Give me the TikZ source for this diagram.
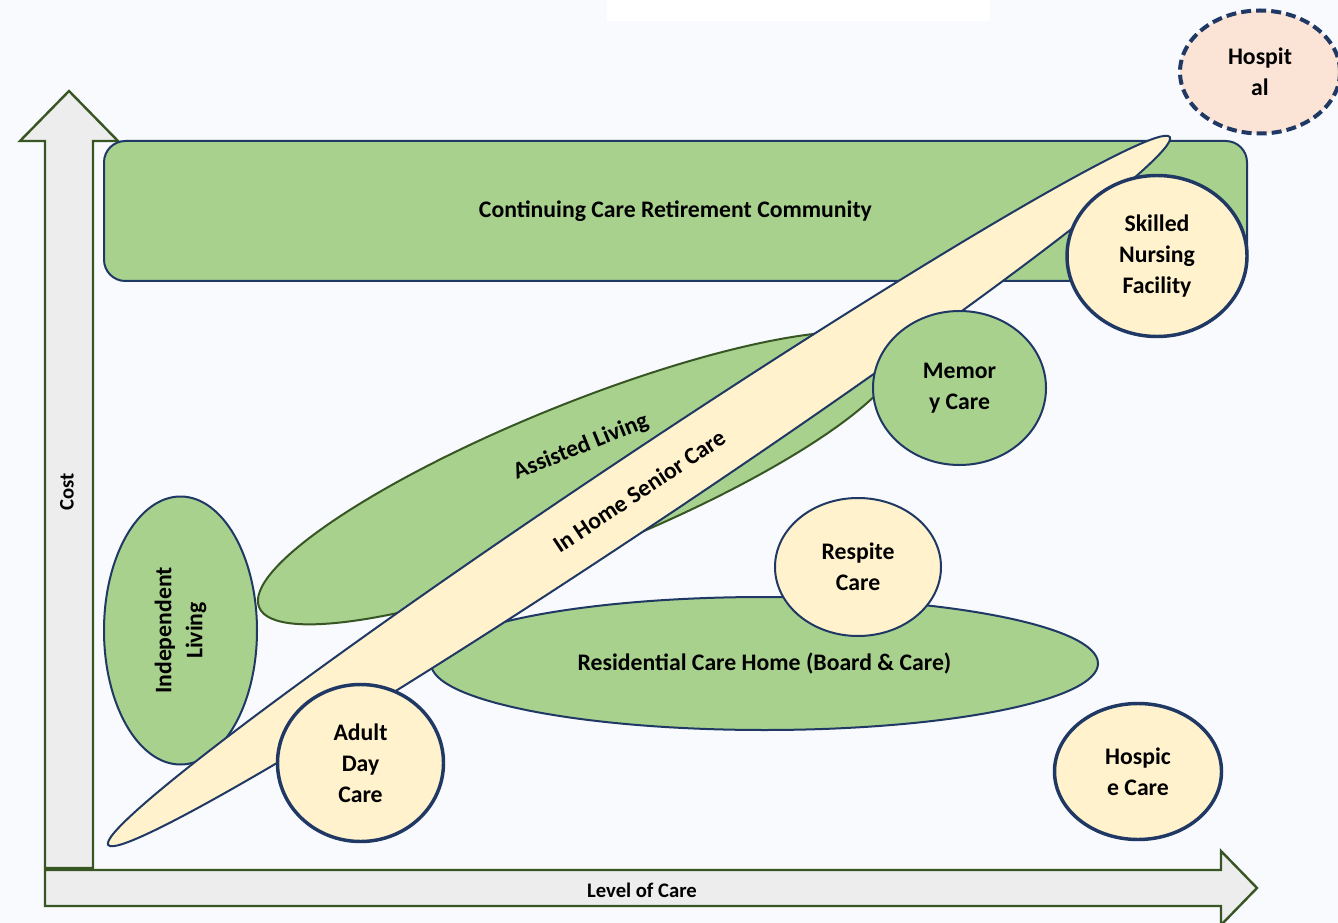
\documentclass[tikz,border=0pt]{standalone}
\usepackage{fontspec}
\setmainfont{Carlito}
\usetikzlibrary{shapes.geometric}
\definecolor{bg}{HTML}{F8FAFD}
\definecolor{grn}{HTML}{A9D18E}
\definecolor{ylw}{HTML}{FFF2CC}
\definecolor{navy}{HTML}{1F3864}
\definecolor{dgrn}{HTML}{375623}
\definecolor{arrfill}{HTML}{EDEDED}
\definecolor{peach}{HTML}{FBE3D6}
\begin{document}
\begin{tikzpicture}[x=0.75pt,y=-0.75pt,
  sz/.style 2 args={minimum width={#1*0.75pt}, minimum height={#2*0.75pt}},
  lbl/.style={font=\fontsize{17.8}{23.2}\selectfont\bfseries, align=center, text=black},
  axlbl/.style={font=\fontsize{15.5}{18}\selectfont\bfseries, text=black},
  greenell/.style={ellipse, draw=navy, fill=grn, line width=1.5pt, inner sep=0pt, lbl},
  yelell/.style={ellipse, draw=navy, fill=ylw, line width=1.5pt, inner sep=0pt, lbl},
  thickell/.style={yelell, line width=2.6pt},
  axarrow/.style={draw=dgrn, fill=arrfill, line width=1.8pt, line join=miter}
]
\useasboundingbox (0,0) rectangle (1338,923);
\fill[bg] (0,0) rectangle (1338,923);
\fill[white] (607,0) rectangle (990,21);

% axes
\path[axarrow] (45,868) -- (45,141) -- (20,141) -- (69,91) -- (118,141) -- (93,141) -- (93,868) -- cycle;
\path[axarrow] (45,870) -- (1221,870) -- (1221,851) -- (1257,888) -- (1221,925) -- (1221,906) -- (45,906) -- cycle;
\node[axlbl, rotate=90] (cost) at (67,492) {Cost};
\node[axlbl] (loc) at (642,890) {Level of Care};

% CCRC
\node[draw=navy, fill=grn, line width=1.5pt, rounded corners=16pt, sz={1143}{140}, lbl] (ccrc) at (675.5,211) {Continuing Care Retirement Community};

% Assisted living
\node[ellipse, draw=dgrn, fill=grn, line width=1.5pt, sz={690}{148}, rotate=22, inner sep=0pt] (al) at (579,478) {};
\node[lbl, rotate=22] (altext) at (581,447) {Assisted Living};

% Independent living
\node[greenell, sz={268}{153}, rotate=90] (il) at (180.5,630.5) {Independent\\Living};

% Residential care
\node[greenell, sz={667}{133}] (rch) at (764.5,663.5) {Residential Care Home (Board \& Care)};

% In home senior care
\node[yelell, sz={1276}{72}, rotate=33.7] (ihsc) at (639,491) {In Home Senior Care};

% Circles
\node[greenell, sz={173}{154}] (mc) at (959.5,388) {Memor\\y Care};
\node[yelell, sz={166}{138}] (rc) at (858,567) {Respite\\Care};
\node[thickell, sz={166}{157}] (adc) at (360.5,763) {Adult\\Day\\Care};
\node[thickell, sz={180}{161}] (snf) at (1157,256) {Skilled\\Nursing\\Facility};
\node[thickell, sz={167}{136}] (hc) at (1138,771.5) {Hospic\\e Care};
\node[ellipse, draw=navy, fill=peach, line width=3pt, dash pattern=on 7.5pt off 3.8pt, sz={160}{123}, inner sep=0pt, lbl] (hosp) at (1260,72) {Hospit\\al};
\end{tikzpicture}
\end{document}
